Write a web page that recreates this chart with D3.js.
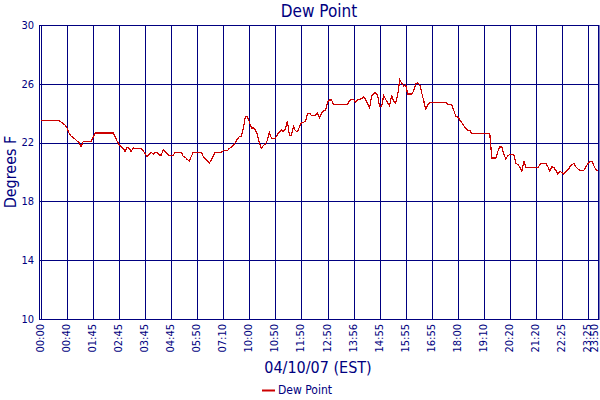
<!DOCTYPE html>
<html>
<head>
<meta charset="utf-8">
<script src="https://cdn.jsdelivr.net/npm/d3@7"></script>
<style>
  body { margin: 0; background: #fff; }
  text { font-family: "DejaVu Sans Condensed", "DejaVu Sans", sans-serif; font-stretch: condensed; fill: #000080; }
</style>
</head>
<body>
<div id="chart"></div>
<script>
// Env params
const width = 600;
const height = 400;
const plot_left = 41, plot_right = 598, plot_top = 25, plot_bottom = 319;
const navy = "#000080";
const red = "#cc0000";

// tick labels (one every 13 readings, plus the last reading)
const tick_labels = ["00:00", "00:40", "01:45", "02:45", "03:45", "04:45", "05:50", "07:10",
  "10:00", "10:50", "11:50", "12:50", "13:56", "14:55", "15:55", "16:55", "18:00",
  "19:10", "20:20", "21:20", "22:25", "23:25", "23:50"];
const y_ticks = [10, 14, 18, 22, 26, 30];

// dew point readings (deg F), in order
const dew_point = [
  23.5, 23.5, 23.5, 23.5, 23.5, 23.5, 23.5, 23.5, 23.5, 23.5,
  23.4, 23.3, 23.2, 23.0, 22.65, 22.45, 22.35, 22.25, 22.1, 22.0,
  21.75, 22.05, 22.05, 22.05, 22.05, 22.05, 22.35,
  22.65, 22.65, 22.65, 22.65, 22.65, 22.65, 22.65, 22.65, 22.65, 22.65,
  22.4, 22.1, 21.85, 21.75, 21.6, 21.4, 21.7, 21.6, 21.4, 21.65,
  21.6, 21.6, 21.6, 21.6, 21.45, 21.25,
  21.05, 21.2, 21.35, 21.2, 21.35, 21.3, 21.15, 21.15, 21.5, 21.4, 21.25, 21.1,
  21.1, 21.15, 21.35, 21.35, 21.35, 21.35, 21.05, 21.0, 20.85, 20.75, 21.05,
  21.35, 21.35, 21.35, 21.35, 21.35, 21.05, 20.9, 20.75, 20.6, 20.8, 21.1,
  21.35, 21.35, 21.35, 21.35, 21.45, 21.45, 21.45,
  21.6, 21.7, 21.8, 22.0, 22.25, 22.4, 22.4, 23.0, 23.76, 23.76,
  23.4, 23.0, 23.0, 22.85, 22.55, 22.0, 21.6, 21.8, 21.9, 22.15,
  22.7, 22.3, 22.3, 22.3, 22.55, 22.75, 22.85, 22.75, 22.95, 23.45,
  22.5, 22.5, 23.1, 22.8, 22.75, 23.05, 23.38, 23.38, 23.45, 23.95,
  24.0, 23.85, 23.85, 23.85, 24.0, 23.7, 24.0, 24.15, 24.2, 24.75,
  24.9, 24.9, 24.6, 24.6, 24.6, 24.6, 24.6, 24.6, 24.6, 24.6,
  24.85, 24.95, 24.95, 24.75, 24.9, 24.95, 25.0, 25.1, 24.95, 24.65,
  24.35, 25.15, 25.35, 25.4, 25.2, 24.45, 24.45, 25.2, 24.95, 24.7,
  24.5, 25.25, 24.8, 24.7, 25.2, 26.27, 26.05, 25.85, 25.95, 25.3,
  25.3, 25.3, 25.5, 26.0, 26.05, 25.95, 25.4, 24.85, 24.3, 24.55,
  24.75, 24.75, 24.75, 24.75, 24.75, 24.75, 24.75, 24.75, 24.75,
  24.6, 24.6, 24.6, 24.2, 23.8, 23.75, 23.55, 23.35, 23.15, 22.95,
  22.85, 22.85, 22.6, 22.6, 22.6, 22.6, 22.6, 22.6, 22.6, 22.6, 22.6, 22.6,
  20.95, 20.95, 20.95, 21.4, 21.7, 21.7, 21.2, 20.9, 21.1, 21.2, 21.2, 21.2,
  20.6, 20.5, 20.35, 20.05, 20.75, 20.3, 20.3, 20.3, 20.3, 20.3, 20.3, 20.3,
  20.5, 20.6, 20.6, 20.6, 20.35, 20.05, 20.35, 20.3, 20.1, 19.85,
  20.05, 19.95, 19.85, 20.05, 20.15, 20.35, 20.5, 20.58, 20.35, 20.2,
  20.12, 20.12, 20.12, 20.35, 20.58, 20.73, 20.73, 20.4, 20.15, 20.12
];

const last = dew_point.length - 1;
const tick_index = tick_labels.map((t, i) => i < tick_labels.length - 1 ? i * 13 : last);

var svg = d3.select("#chart").append("svg")
  .attr("width", width)
  .attr("height", height);

var x = d3.scaleLinear().domain([0, last]).range([plot_left, plot_right]);
var y = d3.scaleLinear().domain([10, 30]).range([plot_bottom, plot_top]);

// horizontal grid
svg.append("g").selectAll("line")
  .data(y_ticks)
  .enter().append("line")
  .attr("x1", plot_left - 2).attr("x2", plot_right + 1)
  .attr("y1", d => Math.round(y(d)) + 0.5).attr("y2", d => Math.round(y(d)) + 0.5)
  .attr("stroke", navy).attr("stroke-width", 1);

// vertical grid
svg.append("g").selectAll("line")
  .data(tick_index)
  .enter().append("line")
  .attr("x1", d => Math.round(x(d)) + 0.5).attr("x2", d => Math.round(x(d)) + 0.5)
  .attr("y1", plot_top).attr("y2", plot_bottom + 1)
  .attr("stroke", navy).attr("stroke-width", 1);

// frame
svg.append("rect")
  .attr("x", plot_left - 1.5).attr("y", Math.round(y(30)) + 0.5)
  .attr("width", plot_right - plot_left + 2.5)
  .attr("height", Math.round(y(10)) - Math.round(y(30)))
  .attr("fill", "none").attr("stroke", navy);

// y tick labels
svg.append("g").selectAll("text")
  .data(y_ticks)
  .enter().append("text")
  .attr("x", 34).attr("y", d => y(d))
  .attr("dy", "0.35em")
  .attr("text-anchor", "end")
  .style("font-size", "11px")
  .text(d => d);

// x tick labels (last one kept inside the page)
svg.append("g").selectAll("text")
  .data(tick_index)
  .enter().append("text")
  .attr("transform", d => `translate(${Math.min(Math.round(x(d)) - 0.5, 594)}, 324) rotate(-90)`)
  .attr("dy", "0.35em")
  .attr("text-anchor", "end")
  .style("font-size", "11px")
  .text((d, i) => tick_labels[i]);

// dew point line
var line = d3.line()
  .x((d, i) => x(i))
  .y(d => y(d));

svg.append("path")
  .datum(dew_point)
  .attr("d", line)
  .attr("fill", "none")
  .attr("stroke", red)
  .attr("stroke-width", 1.2)
  .attr("shape-rendering", "crispEdges");

// titles
svg.append("text")
  .attr("x", 319).attr("y", 17)
  .attr("text-anchor", "middle")
  .style("font-size", "17px")
  .text("Dew Point");

svg.append("text")
  .attr("transform", "translate(16, 172) rotate(-90)")
  .attr("text-anchor", "middle")
  .style("font-size", "16px")
  .text("Degrees F");

svg.append("text")
  .attr("x", 318).attr("y", 373)
  .attr("text-anchor", "middle")
  .style("font-size", "16px")
  .text("04/10/07 (EST)");

// legend
svg.append("line")
  .attr("x1", 262).attr("x2", 275)
  .attr("y1", 390.5).attr("y2", 390.5)
  .attr("stroke", red).attr("stroke-width", 2);

svg.append("text")
  .attr("x", 278).attr("y", 390)
  .attr("dy", "0.35em")
  .style("font-size", "12px")
  .text("Dew Point");
</script>
</body>
</html>
